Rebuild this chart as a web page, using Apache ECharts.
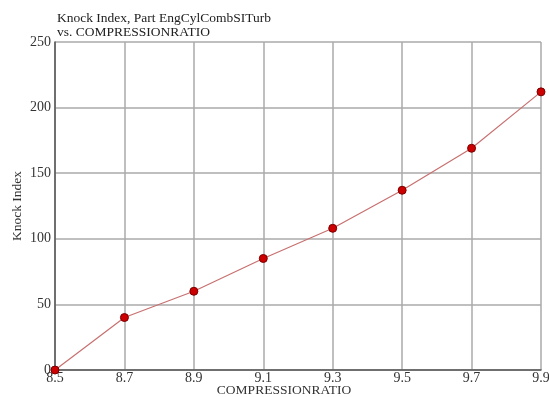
<!DOCTYPE html>
<html>
<head>
<meta charset="utf-8">
<script src="https://cdn.jsdelivr.net/npm/echarts@6/dist/echarts.min.js"></script>
<style>html,body{margin:0;padding:0;background:#fff;}#c{width:549px;height:397px;}</style>
</head>
<body>
<div id="c"></div>
<script>
var categories = ['8.5','8.7','8.9','9.1','9.3','9.5','9.7','9.9'];
var knockIndex = [0, 40, 60, 85, 108, 137, 169, 212];
var yTicks = [0, 50, 100, 150, 200, 250];

var font = '"Liberation Serif", "DejaVu Serif", serif';
var chart = echarts.init(document.getElementById('c'), null, {renderer: 'canvas'});
chart.setOption({
  animation: false,
  backgroundColor: '#fff',
  title: {
    text: 'Knock Index, Part EngCylCombSITurb\nvs. COMPRESSIONRATIO',
    left: 52, top: 6,
    textStyle: {fontFamily: font, fontSize: 13.5, fontWeight: 'normal', color: '#222', lineHeight: 14}
  },
  grid: {left: 55, right: 8, top: 42, bottom: 27, containLabel: false, outerBoundsMode: 'none'},
  xAxis: {
    type: 'category',
    data: categories,
    boundaryGap: false,
    name: 'COMPRESSIONRATIO',
    nameLocation: 'middle',
    nameGap: 13,
    nameMoveOverlap: false,
    nameTextStyle: {fontFamily: font, fontSize: 13.5, color: '#333', padding: [0, 28, 0, 0]},
    axisLine: {lineStyle: {color: '#555', width: 1.5}},
    axisTick: {show: false},
    axisLabel: {fontFamily: font, fontSize: 14, color: '#333', margin: 1},
    splitLine: {show: true, lineStyle: {color: '#aaa', width: 1.5}}
  },
  yAxis: {
    type: 'value',
    min: yTicks[0], max: yTicks[yTicks.length - 1], interval: 50,
    name: 'Knock Index',
    nameLocation: 'middle',
    nameGap: 31,
    nameMoveOverlap: false,
    nameTextStyle: {fontFamily: font, fontSize: 13.5, color: '#333'},
    axisLine: {show: true, lineStyle: {color: '#555', width: 1.5}},
    axisTick: {show: false},
    axisLabel: {fontFamily: font, fontSize: 14, color: '#333', margin: 4},
    splitLine: {show: true, lineStyle: {color: '#aaa', width: 1.5}}
  },
  series: [{
    type: 'line',
    data: knockIndex,
    symbol: 'circle',
    symbolSize: 8,
    lineStyle: {color: '#c87070', width: 1.2},
    itemStyle: {color: '#cc0000', borderColor: '#7a0000', borderWidth: 1},
    z: 5
  }]
});
</script>
</body>
</html>
